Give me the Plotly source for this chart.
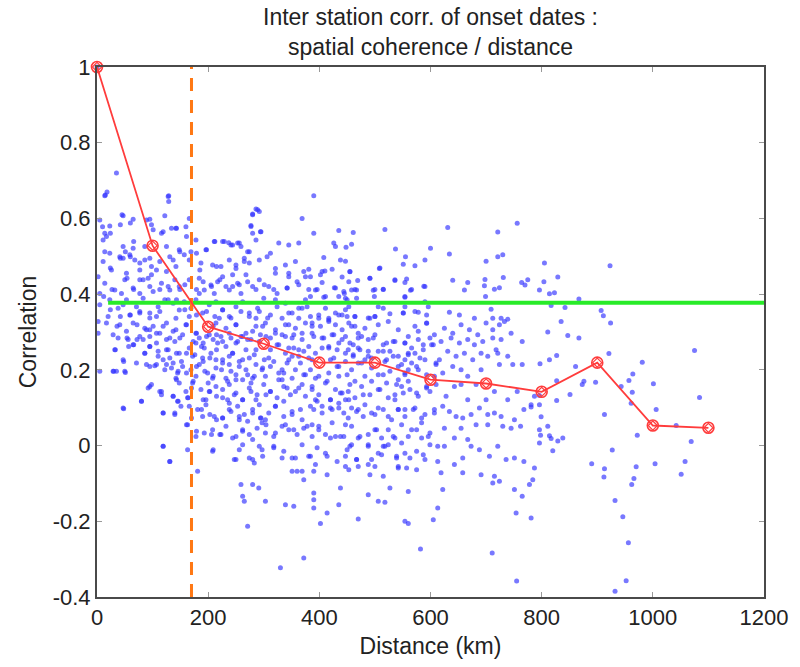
import plotly.graph_objects as go

# ---------------- data ----------------
bin_centers_km = [0, 100, 200, 300, 400, 500, 600, 700, 800, 900, 1000, 1100]
bin_mean_corr = [1.0, 0.528, 0.314, 0.269, 0.219, 0.219, 0.174, 0.164, 0.142, 0.219, 0.053, 0.047]

threshold_corr = 0.377      # horizontal green line
threshold_dist_km = 170     # vertical dashed orange line
green_x_range = [20, 1200]

x_ticks = [0, 200, 400, 600, 800, 1000, 1200]
y_ticks = [-0.4, -0.2, 0, 0.2, 0.4, 0.6, 0.8, 1]
y_tick_text = ["-0.4", "-0.2", "0", "0.2", "0.4", "0.6", "0.8", "1"]

# station pairs (distance km, correlation)
pairs_near_upper = [
    (0, 1.0), (35, 0.72), (14, 0.66), (18, 0.67), (129, 0.66), (129, 0.645), (286, 0.625), (292, 0.618), (280, 0.612),
    (47, 0.607), (166, 0.60), (369, 0.60), (122, 0.607), (5, 0.596), (65, 0.598), (95, 0.598), (10, 0.578),
    (14, 0.561), (17, 0.552), (11, 0.543), (23, 0.58), (98, 0.583), (101, 0.57), (134, 0.574), (142, 0.574),
    (160, 0.578), (116, 0.561), (277, 0.581), (280, 0.561), (294, 0.565), (178, 0.543), (211, 0.539), (226, 0.539),
    (237, 0.536), (253, 0.535), (327, 0.535), (363, 0.535), (47, 0.526), (65, 0.521), (86, 0.526), (14, 0.512),
    (23, 0.508), (148, 0.517), (169, 0.512), (196, 0.517), (241, 0.53), (259, 0.526), (274, 0.512), (312, 0.508),
    (345, 0.53), (41, 0.499), (47, 0.495), (59, 0.504), (68, 0.49), (77, 0.482), (86, 0.49), (95, 0.495),
    (113, 0.486), (131, 0.499), (142, 0.473), (157, 0.504), (166, 0.49), (187, 0.482), (208, 0.477), (223, 0.473),
    (238, 0.49), (250, 0.468), (265, 0.495), (274, 0.482), (292, 0.49), (306, 0.499), (321, 0.468), (339, 0.477),
    (357, 0.486), (372, 0.46), (11, 0.486), (26, 0.464), (53, 0.455), (107, 0.464), (125, 0.46),
    (2, 0.446), (14, 0.429), (32, 0.411), (50, 0.438), (65, 0.416), (83, 0.438), (98, 0.451), (116, 0.429),
    (131, 0.411), (148, 0.42), (166, 0.438), (184, 0.442), (193, 0.411), (205, 0.424), (217, 0.433), (226, 0.446),
    (238, 0.411), (253, 0.429), (268, 0.451), (280, 0.42), (292, 0.438), (309, 0.42), (324, 0.402), (342, 0.416),
    (360, 0.433), (375, 0.446), (5, 0.402), (44, 0.402), (77, 0.402), (101, 0.407), (184, 0.402), (211, 0.402),
    (244, 0.42), (259, 0.402), (345, 0.446), (5, 0.372), (23, 0.385), (38, 0.363), (53, 0.385), (71, 0.367),
    (83, 0.389), (95, 0.35), (110, 0.367), (122, 0.385), (137, 0.376), (148, 0.358), (157, 0.38), (169, 0.363),
    (178, 0.385), (190, 0.35), (202, 0.372), (214, 0.38), (226, 0.358), (238, 0.341), (250, 0.367), (262, 0.38),
    (274, 0.35), (289, 0.363), (300, 0.389), (312, 0.345), (324, 0.367), (339, 0.376), (351, 0.35), (369, 0.363),
    (20, 0.341), (59, 0.345), (107, 0.341), (142, 0.336), (166, 0.341), (220, 0.336), (286, 0.336), (333, 0.336),
    (363, 0.336), (375, 0.385), (47, 0.372), (77, 0.35),
]

pairs_mid_upper = [
    (390, 0.66), (390, 0.561), (435, 0.568), (461, 0.563), (518, 0.571), (631, 0.576), (756, 0.587), (721, 0.564),
    (426, 0.535), (429, 0.526), (458, 0.532), (448, 0.524), (408, 0.497), (438, 0.49), (447, 0.487), (537, 0.519),
    (555, 0.499), (600, 0.521), (590, 0.49), (634, 0.506), (572, 0.475), (551, 0.479), (508, 0.468), (700, 0.487),
    (721, 0.499), (730, 0.504), (381, 0.466), (402, 0.451), (410, 0.461), (423, 0.466), (455, 0.459), (441, 0.445),
    (469, 0.436), (491, 0.442), (453, 0.433), (384, 0.446), (405, 0.431), (393, 0.411), (427, 0.417), (445, 0.402),
    (458, 0.411), (467, 0.411), (497, 0.41), (515, 0.413), (536, 0.436), (557, 0.44), (554, 0.431), (564, 0.41),
    (588, 0.421), (640, 0.437), (667, 0.431), (661, 0.411), (698, 0.439), (697, 0.422), (715, 0.413), (724, 0.417),
    (731, 0.444), (764, 0.431), (770, 0.424), (384, 0.394), (408, 0.392), (435, 0.394), (447, 0.389), (453, 0.367),
    (467, 0.389), (499, 0.394), (554, 0.392), (590, 0.38), (699, 0.394), (411, 0.363), (506, 0.367), (515, 0.363),
    (554, 0.367), (596, 0.367), (709, 0.36), (384, 0.341), (399, 0.336), (417, 0.336), (429, 0.35), (441, 0.345),
    (450, 0.341), (464, 0.341), (491, 0.336), (500, 0.341), (527, 0.348), (551, 0.35), (578, 0.352), (593, 0.345),
    (634, 0.352), (652, 0.345), (679, 0.336), (712, 0.336), (727, 0.336), (739, 0.334),
]

pairs_far_upper = [
    (775, 0.438), (805, 0.482), (804, 0.433), (829, 0.445), (796, 0.411), (814, 0.401), (823, 0.404), (867, 0.387),
    (923, 0.475), (842, 0.365), (817, 0.37), (907, 0.357), (911, 0.343),
]

pairs_near_lower = [
    (2, 0.328), (17, 0.324), (41, 0.319), (65, 0.324), (86, 0.31), (101, 0.315), (113, 0.297), (125, 0.324),
    (142, 0.306), (160, 0.319), (178, 0.297), (214, 0.324), (232, 0.31), (250, 0.319), (268, 0.297), (286, 0.315),
    (303, 0.324), (321, 0.306), (339, 0.319), (357, 0.31), (375, 0.324), (2, 0.297), (29, 0.293), (53, 0.302),
    (77, 0.288), (95, 0.306), (131, 0.284), (154, 0.293), (184, 0.284), (202, 0.293), (223, 0.288), (241, 0.284),
    (259, 0.288), (277, 0.28), (294, 0.293), (312, 0.284), (333, 0.293), (351, 0.284), (369, 0.297),
    (38, 0.284), (56, 0.28), (65, 0.266), (83, 0.28), (95, 0.262), (107, 0.271), (125, 0.253), (140, 0.275),
    (148, 0.244), (166, 0.258), (178, 0.271), (193, 0.258), (205, 0.244), (217, 0.271), (232, 0.262), (244, 0.244),
    (253, 0.275), (268, 0.253), (283, 0.24), (312, 0.253), (324, 0.266), (339, 0.244), (354, 0.258), (372, 0.249),
    (32, 0.253), (47, 0.227), (86, 0.244), (110, 0.236), (131, 0.231), (172, 0.236), (190, 0.231), (214, 0.227),
    (238, 0.236), (262, 0.227), (309, 0.231), (345, 0.227), (363, 0.236),
    (5, 0.196), (29, 0.196), (35, 0.196), (50, 0.196), (71, 0.218), (95, 0.209), (107, 0.214), (122, 0.2),
    (137, 0.218), (145, 0.192), (154, 0.209), (169, 0.2), (184, 0.214), (199, 0.192), (214, 0.205), (226, 0.218),
    (241, 0.196), (256, 0.209), (271, 0.187), (286, 0.214), (297, 0.2), (312, 0.209), (327, 0.192), (342, 0.218),
    (357, 0.2), (372, 0.187), (142, 0.178), (178, 0.183), (208, 0.178), (232, 0.178), (250, 0.174), (280, 0.178),
    (303, 0.183), (333, 0.174), (351, 0.178),
    (95, 0.156), (116, 0.143), (137, 0.13), (145, 0.117), (163, 0.126), (148, 0.165), (172, 0.165), (187, 0.148),
    (202, 0.143), (214, 0.156), (226, 0.126), (238, 0.161), (250, 0.139), (262, 0.121), (274, 0.152), (288, 0.134),
    (300, 0.161), (312, 0.143), (324, 0.126), (336, 0.156), (348, 0.134), (363, 0.152), (375, 0.13), (80, 0.117),
    (98, 0.161), (160, 0.143), (196, 0.121), (235, 0.121), (286, 0.121),
    (47, 0.099), (140, 0.086), (119, 0.086), (151, 0.104), (166, 0.104), (181, 0.095), (196, 0.108), (211, 0.077),
    (226, 0.073), (238, 0.095), (253, 0.104), (265, 0.082), (280, 0.095), (294, 0.073), (309, 0.086), (321, 0.104),
    (336, 0.077), (351, 0.09), (369, 0.068), (190, 0.077), (256, 0.068), (303, 0.068),
    (163, 0.055), (178, 0.024), (193, 0.033), (208, 0.042), (223, 0.029), (232, 0.051), (250, 0.024), (262, 0.042),
    (274, 0.029), (288, 0.046), (303, 0.033), (318, 0.024), (333, 0.051), (345, 0.042), (360, 0.029), (372, 0.046),
    (297, 0.06),
    (119, -0.002), (163, -0.011), (181, -0.068), (208, -0.015), (250, -0.037), (262, 0.002), (283, -0.046),
    (297, -0.011), (318, -0.006), (336, -0.015), (351, -0.033), (360, -0.068), (369, -0.068), (131, -0.042),
    (280, -0.037),
    (259, -0.103), (280, -0.103), (265, -0.147), (291, -0.112), (262, -0.134), (303, -0.147), (339, -0.156),
    (354, -0.16), (372, -0.09), (351, -0.068),
    (271, -0.213), (330, -0.323), (372, -0.297),
]

pairs_mid_lower = [
    (387, 0.324), (402, 0.315), (417, 0.328), (429, 0.319), (441, 0.306), (453, 0.324), (464, 0.315), (470, 0.297),
    (482, 0.31), (506, 0.319), (524, 0.328), (542, 0.306), (560, 0.288), (572, 0.315), (593, 0.324), (607, 0.293),
    (625, 0.31), (640, 0.297), (655, 0.319), (670, 0.306), (685, 0.293), (700, 0.324), (712, 0.306), (724, 0.319),
    (733, 0.328), (745, 0.297), (765, 0.275), (390, 0.288), (408, 0.284), (423, 0.293), (441, 0.28), (455, 0.271),
    (470, 0.284), (488, 0.28), (497, 0.284), (515, 0.266), (533, 0.275), (554, 0.271), (578, 0.28), (599, 0.284),
    (619, 0.275), (637, 0.284), (652, 0.271), (667, 0.28), (679, 0.266), (694, 0.275), (712, 0.284), (718, 0.253),
    (727, 0.28),
    (393, 0.244), (405, 0.258), (417, 0.262), (432, 0.253), (447, 0.244), (461, 0.24), (473, 0.253), (494, 0.231),
    (506, 0.249), (527, 0.249), (542, 0.236), (560, 0.244), (572, 0.244), (587, 0.253), (605, 0.266), (616, 0.227),
    (631, 0.249), (646, 0.236), (661, 0.244), (676, 0.227), (691, 0.244), (703, 0.236), (721, 0.244), (739, 0.236),
    (387, 0.227), (426, 0.231), (482, 0.227), (521, 0.227), (554, 0.227), (581, 0.231),
    (384, 0.2), (417, 0.192), (435, 0.209), (450, 0.187), (470, 0.218), (482, 0.183), (515, 0.187), (527, 0.196),
    (542, 0.209), (554, 0.187), (566, 0.218), (578, 0.2), (593, 0.187), (622, 0.192), (610, 0.214), (640, 0.209),
    (655, 0.2), (667, 0.183), (691, 0.2), (724, 0.214), (748, 0.214), (765, 0.214), (393, 0.178), (458, 0.2),
    (494, 0.205), (542, 0.174), (560, 0.2),
    (387, 0.156), (399, 0.134), (414, 0.17), (420, 0.121), (429, 0.148), (441, 0.139), (455, 0.161), (464, 0.126),
    (476, 0.156), (491, 0.134), (509, 0.148), (524, 0.126), (539, 0.161), (551, 0.139), (563, 0.148), (578, 0.13),
    (593, 0.156), (599, 0.143), (610, 0.161), (643, 0.156), (655, 0.161), (667, 0.121), (682, 0.161), (700, 0.121),
    (715, 0.143), (739, 0.121), (756, 0.143), (393, 0.121), (453, 0.121), (536, 0.121), (628, 0.13),
    (390, 0.095), (405, 0.104), (420, 0.099), (435, 0.112), (444, 0.086), (458, 0.099), (470, 0.095), (479, 0.077),
    (494, 0.086), (506, 0.099), (524, 0.077), (542, 0.095), (554, 0.077), (572, 0.099), (590, 0.082), (607, 0.095),
    (622, 0.104), (634, 0.09), (646, 0.077), (658, 0.073), (673, 0.082), (688, 0.099), (703, 0.082), (715, 0.086),
    (727, 0.077), (751, 0.068), (768, 0.095),
    (387, 0.055), (399, 0.042), (411, 0.029), (423, 0.06), (438, 0.024), (447, 0.055), (458, 0.051), (470, 0.02),
    (488, 0.029), (500, 0.042), (512, 0.02), (524, 0.042), (536, 0.02), (548, 0.055), (560, 0.024), (575, 0.042),
    (584, 0.06), (596, 0.024), (625, 0.046), (643, 0.02), (655, 0.046), (667, 0.016), (682, 0.055), (703, 0.055),
    (730, 0.051), (745, 0.046), (762, 0.051),
    (381, -0.028), (396, -0.006), (414, -0.028), (432, -0.042), (447, -0.028), (455, -0.002), (467, -0.037),
    (488, 0.002), (506, -0.02), (515, -0.002), (524, 0.002), (539, -0.028), (554, -0.02), (575, -0.015),
    (587, -0.024), (599, 0.002), (613, -0.042), (625, -0.002), (643, -0.05), (658, -0.033), (673, -0.002),
    (688, -0.011), (706, -0.028), (721, -0.002), (736, -0.037), (751, -0.033), (768, -0.042), (447, -0.055),
    (494, -0.037), (542, -0.055),
    (390, -0.068), (414, -0.077), (438, -0.112), (453, -0.064), (470, -0.055), (491, -0.077), (500, -0.055),
    (515, -0.081), (542, -0.059), (560, -0.121), (575, -0.064), (619, -0.072), (622, -0.116), (658, -0.072),
    (691, -0.077), (712, -0.099), (715, -0.081), (724, -0.094), (751, -0.116), (390, -0.125), (527, -0.112),
    (557, -0.059),
    (390, -0.143), (390, -0.165), (414, -0.178), (402, -0.206), (435, -0.156), (470, -0.194), (488, -0.13),
    (506, -0.147), (518, -0.15), (554, -0.2), (560, -0.206), (605, -0.196), (613, -0.165), (754, -0.178),
    (765, -0.134),
    (582, -0.273), (711, -0.284), (755, -0.358),
]

pairs_far_lower = [
    (835, 0.328), (924, 0.324), (811, 0.3), (847, 0.291), (867, 0.284), (921, 0.243), (797, 0.216), (814, 0.227),
    (827, 0.238), (861, 0.209), (981, 0.22), (1075, 0.251), (827, 0.171), (876, 0.17), (873, 0.161), (897, 0.167),
    (957, 0.172), (964, 0.189), (1001, 0.163), (787, 0.13), (796, 0.132), (781, 0.108), (781, 0.102), (796, 0.108),
    (827, 0.119), (851, 0.135), (943, 0.156), (963, 0.141), (961, 0.112), (1084, 0.127), (1006, 0.095),
    (799, 0.076), (913, 0.082), (796, 0.042), (811, 0.051), (798, 0.027), (814, 0.026), (817, 0.019), (796, 0.007),
    (829, 0.012), (838, 0.02), (820, -0.014), (972, 0.027), (1042, 0.053), (1069, 0.011), (927, -0.012),
    (787, -0.059), (784, -0.09), (778, -0.103), (890, -0.048), (913, -0.061), (912, -0.083), (970, -0.056),
    (1004, -0.048), (1058, -0.042), (1051, -0.076), (966, -0.087), (962, -0.103), (932, -0.145), (781, -0.191),
    (946, -0.188), (956, -0.257), (952, -0.357), (932, -0.385),
]

# extra points read from close-ups of the dense core of the cloud
pairs_core_upper = [
    (15, 0.662), (128, 0.658), (45, 0.61), (60, 0.588), (42, 0.583), (24, 0.561), (66, 0.539), (51, 0.512),
    (42, 0.495), (60, 0.499), (89, 0.596), (119, 0.565), (143, 0.574), (161, 0.552), (125, 0.526), (149, 0.512),
    (137, 0.49), (179, 0.508), (197, 0.517), (212, 0.539), (229, 0.539), (244, 0.53), (256, 0.535), (271, 0.512),
    (280, 0.61), (289, 0.623), (277, 0.579), (295, 0.565), (286, 0.543), (215, 0.473), (250, 0.477), (265, 0.486),
    (185, 0.464), (98, 0.473), (24, 0.469), (77, 0.464),
    (12, 0.394), (27, 0.412), (54, 0.442), (66, 0.412), (77, 0.438), (92, 0.442), (95, 0.42), (113, 0.412),
    (128, 0.42), (140, 0.438), (149, 0.412), (158, 0.425), (179, 0.412), (191, 0.433), (206, 0.42), (221, 0.438),
    (232, 0.42), (244, 0.451), (256, 0.425), (271, 0.433), (286, 0.412), (301, 0.425), (24, 0.359), (42, 0.341),
    (60, 0.345), (77, 0.354), (95, 0.337), (113, 0.354), (128, 0.385), (143, 0.385), (158, 0.359), (179, 0.345),
    (197, 0.354), (212, 0.341), (226, 0.359), (241, 0.337), (259, 0.354), (274, 0.341), (292, 0.354), (307, 0.337),
    (36, 0.315), (72, 0.319), (119, 0.315), (161, 0.319), (209, 0.315), (250, 0.319), (298, 0.315),
    (318, 0.412), (342, 0.416), (363, 0.425), (381, 0.412), (396, 0.412), (411, 0.394), (429, 0.416), (444, 0.407),
    (450, 0.385), (464, 0.412), (491, 0.442), (500, 0.412), (515, 0.412), (536, 0.438), (554, 0.394), (566, 0.412),
    (590, 0.42), (321, 0.385), (345, 0.35), (363, 0.363), (378, 0.367), (399, 0.345), (417, 0.332), (435, 0.345),
    (447, 0.359), (464, 0.341), (488, 0.337), (500, 0.341), (551, 0.35), (572, 0.354), (593, 0.323), (345, 0.319),
    (387, 0.315), (458, 0.315), (321, 0.455), (345, 0.455), (405, 0.46), (455, 0.46), (509, 0.469),
]

pairs_core_lower = [
    (89, 0.306), (107, 0.297), (137, 0.302), (179, 0.297), (197, 0.288), (215, 0.293), (238, 0.297), (262, 0.288),
    (280, 0.302), (304, 0.288), (54, 0.284), (72, 0.28), (95, 0.288), (125, 0.28), (149, 0.284), (173, 0.275),
    (191, 0.271), (209, 0.28), (226, 0.275), (250, 0.271), (271, 0.28), (292, 0.275),
    (33, 0.253), (57, 0.262), (66, 0.266), (86, 0.244), (95, 0.262), (110, 0.249), (128, 0.253), (143, 0.244),
    (161, 0.244), (176, 0.24), (188, 0.262), (203, 0.231), (215, 0.253), (226, 0.227), (244, 0.244), (256, 0.222),
    (274, 0.231), (286, 0.253), (301, 0.227), (48, 0.222), (119, 0.227), (152, 0.222), (191, 0.222),
    (30, 0.196), (51, 0.193), (89, 0.214), (104, 0.211), (125, 0.214), (134, 0.205), (146, 0.196), (161, 0.192),
    (179, 0.209), (194, 0.196), (209, 0.183), (224, 0.2), (238, 0.214), (250, 0.187), (268, 0.2), (283, 0.183),
    (298, 0.205), (143, 0.174), (173, 0.17), (200, 0.165), (235, 0.17), (262, 0.174), (277, 0.165),
    (92, 0.152), (113, 0.143), (116, 0.134), (137, 0.13), (146, 0.117), (164, 0.126), (170, 0.152), (191, 0.121),
    (203, 0.143), (215, 0.13), (226, 0.148), (238, 0.112), (247, 0.134), (262, 0.121), (277, 0.143), (292, 0.108),
    (304, 0.134), (80, 0.117), (48, 0.097),
    (119, 0.086), (140, 0.082), (161, 0.055), (170, 0.073), (188, 0.095), (203, 0.082), (215, 0.068), (226, 0.073),
    (241, 0.09), (256, 0.077), (271, 0.064), (280, 0.086), (295, 0.073), (304, 0.055),
    (206, 0.029), (221, 0.029), (244, 0.02), (262, 0.038), (280, 0.016), (292, -0.002), (119, -0.002), (179, 0.038),
    (209, -0.011), (256, -0.011), (274, -0.033), (298, -0.028), (131, -0.042), (247, -0.037),
    (321, 0.297), (339, 0.288), (354, 0.293), (369, 0.28), (387, 0.297), (405, 0.284), (426, 0.293), (447, 0.288),
    (461, 0.266), (476, 0.288), (500, 0.293), (521, 0.271), (536, 0.275), (554, 0.271), (578, 0.302), (602, 0.266),
    (327, 0.266), (345, 0.258), (363, 0.253), (381, 0.262), (417, 0.258), (435, 0.271), (452, 0.253), (470, 0.258),
    (488, 0.249), (515, 0.249), (566, 0.258), (587, 0.266),
    (318, 0.222), (333, 0.2), (351, 0.236), (366, 0.218), (381, 0.231), (420, 0.227), (432, 0.209), (447, 0.222),
    (461, 0.236), (476, 0.218), (488, 0.236), (518, 0.222), (533, 0.236), (548, 0.214), (560, 0.24), (575, 0.209),
    (590, 0.227), (610, 0.218),
    (312, 0.143), (327, 0.174), (342, 0.152), (357, 0.143), (369, 0.161), (387, 0.148), (399, 0.183), (411, 0.165),
    (420, 0.121), (438, 0.139), (452, 0.143), (464, 0.17), (479, 0.134), (494, 0.17), (506, 0.148), (521, 0.165),
    (536, 0.134), (548, 0.156), (560, 0.17), (575, 0.139), (593, 0.152), (607, 0.183), (336, 0.192), (375, 0.187),
    (435, 0.183), (506, 0.187), (554, 0.192),
    (321, 0.104), (336, 0.117), (351, 0.082), (366, 0.095), (384, 0.104), (405, 0.086), (423, 0.095), (435, 0.099),
    (452, 0.073), (467, 0.09), (482, 0.108), (500, 0.082), (515, 0.095), (530, 0.068), (542, 0.095), (554, 0.095),
    (569, 0.095), (584, 0.073), (607, 0.086), (396, 0.117), (447, 0.121),
    (321, 0.033), (339, 0.055), (354, 0.042), (378, 0.051), (387, 0.024), (399, 0.051), (420, 0.02), (429, 0.024),
    (444, 0.024), (458, 0.002), (473, 0.024), (488, -0.002), (503, 0.042), (518, -0.002), (533, 0.024), (548, 0.007),
    (566, 0.042), (584, 0.02), (599, 0.033), (613, -0.002), (318, -0.002), (369, 0.002),
    (333, -0.033), (357, -0.033), (384, -0.028), (393, -0.05), (411, -0.02), (450, -0.011), (467, -0.037),
    (488, -0.05), (512, -0.024), (539, -0.033), (563, -0.033), (590, -0.037),
]

all_pairs = (pairs_near_upper + pairs_mid_upper + pairs_far_upper + pairs_core_upper +
             pairs_near_lower + pairs_mid_lower + pairs_far_lower + pairs_core_lower)
pair_dist = [p[0] for p in all_pairs]
pair_corr = [p[1] for p in all_pairs]

# ---------------- figure ----------------
FONT = "Liberation Sans, Arial, Helvetica, sans-serif"
TEXT_COLOR = "#222222"

fig = go.Figure()

fig.add_trace(go.Scatter(
    x=pair_dist, y=pair_corr, mode="markers", cliponaxis=False,
    marker=dict(size=5, color="rgba(50,50,255,0.66)", line=dict(width=0)),
    showlegend=False, hoverinfo="skip"))

fig.add_trace(go.Scatter(
    x=green_x_range, y=[threshold_corr, threshold_corr], mode="lines",
    line=dict(color="rgb(40,235,40)", width=4), showlegend=False, hoverinfo="skip"))

fig.add_trace(go.Scatter(
    x=[threshold_dist_km, threshold_dist_km], y=[-0.4, 1.0], mode="lines",
    line=dict(color="rgb(255,120,20)", width=3, dash="13px,9px"),
    showlegend=False, hoverinfo="skip"))

fig.add_trace(go.Scatter(
    x=bin_centers_km, y=bin_mean_corr, mode="lines+markers", cliponaxis=False,
    line=dict(color="rgb(255,60,60)", width=1.8),
    marker=dict(symbol="circle-open", size=11, color="rgb(255,60,60)", line=dict(width=1.6)),
    showlegend=False, hoverinfo="skip"))

fig.add_trace(go.Scatter(
    x=bin_centers_km, y=bin_mean_corr, mode="markers", cliponaxis=False,
    marker=dict(symbol="diamond-open", size=7, color="rgb(255,60,60)", line=dict(width=1.2)),
    showlegend=False, hoverinfo="skip"))

axis_common = dict(
    showgrid=False, zeroline=False, showline=True, mirror="allticks",
    linecolor="#4a4a4a", linewidth=2, ticks="inside", ticklen=5, tickcolor="#999999",
    tickwidth=1, tickfont=dict(family=FONT, size=22, color=TEXT_COLOR),
)

fig.update_layout(
    width=800, height=667,
    margin=dict(l=97, r=32, t=67, b=69),
    paper_bgcolor="white", plot_bgcolor="white",
    xaxis=dict(axis_common, range=[0, 1200], tickvals=x_ticks,
               title=dict(text="Distance (km)", font=dict(family=FONT, size=23, color=TEXT_COLOR), standoff=8)),
    yaxis=dict(axis_common, range=[-0.4, 1.0], tickvals=y_ticks, ticktext=y_tick_text,
               title=dict(text="Correlation", font=dict(family=FONT, size=23, color=TEXT_COLOR), standoff=10)),
    annotations=[dict(
        text="Inter station corr. of onset dates :<br>spatial coherence / distance",
        xref="paper", yref="paper", x=0.5, y=1, xanchor="center", yanchor="bottom",
        yshift=5, showarrow=False, align="center",
        font=dict(family=FONT, size=23, color=TEXT_COLOR),
    )],
)

fig.write_html("out.html")
